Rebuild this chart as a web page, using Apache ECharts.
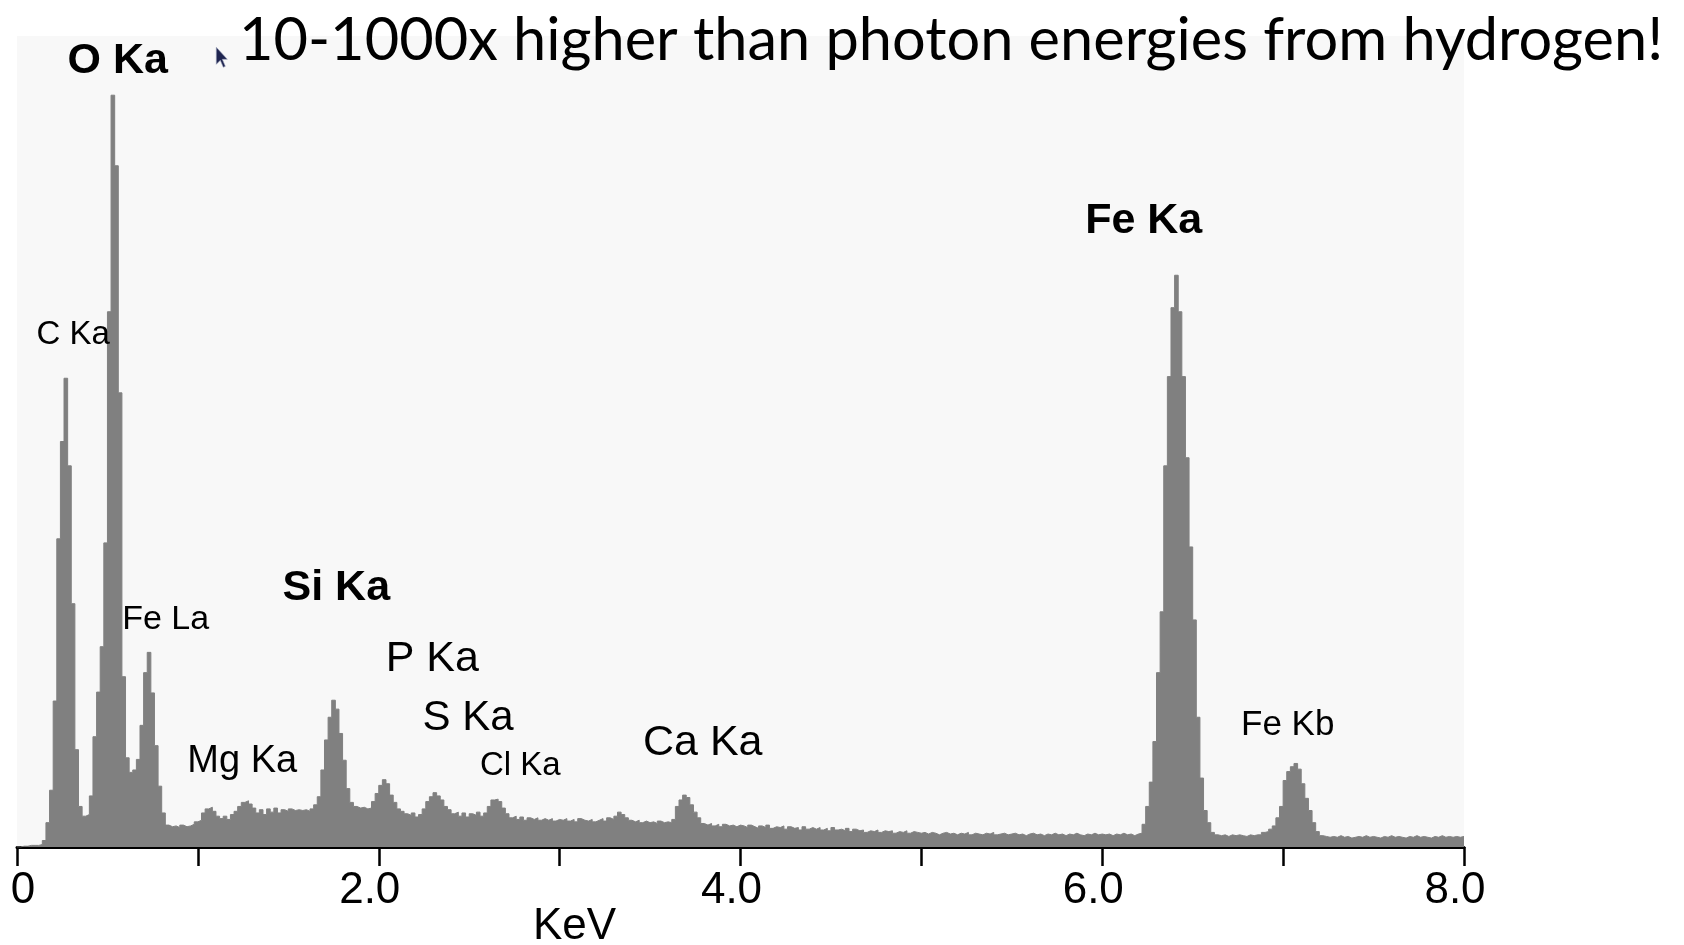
<!DOCTYPE html>
<html>
<head>
<meta charset="utf-8">
<title>EDS spectrum</title>
<script src="https://cdn.jsdelivr.net/npm/echarts@6/dist/echarts.min.js"></script>
<style>
  html, body { margin: 0; padding: 0; background: #ffffff; }
  #chart { width: 1684px; height: 945px; }
</style>
</head>
<body>
<div id="chart"></div>
<script>
// Energy-dispersive X-ray spectrum: counts per 0.02 keV channel, 0 - 8 keV.
const channelWidthKeV = 0.02;

const counts0to1 = [
  0, 1, 1, 2, 2, 2, 3, 8, 30, 70,
  180, 380, 500, 578, 470, 300, 120, 50, 38, 40,
  63, 136, 191, 247, 375, 660, 927, 840, 560, 210,
  110, 92, 95, 108, 150, 215, 240, 190, 125, 75,
  42, 27, 25, 26, 24, 27, 25, 26, 28, 31
];
const counts1to2 = [
  33, 42, 47, 49, 44, 38, 35, 38, 34, 40,
  44, 50, 55, 57, 53, 48, 42, 46, 40, 47,
  43, 48, 42, 46, 44, 47, 45, 46, 45, 46,
  44, 47, 52, 62, 95, 132, 160, 181, 170, 140,
  107, 72, 55, 50, 48, 49, 47, 48, 56, 66
];
const counts2to3 = [
  76, 83, 78, 64, 55, 47, 44, 41, 39, 42,
  37, 40, 47, 56, 62, 67, 63, 58, 50, 46,
  41, 43, 38, 42, 37, 41, 39, 43, 38, 42,
  50, 58, 59, 56, 48, 41, 36, 38, 34, 37,
  33, 36, 34, 36, 33, 35, 33, 35, 32, 34
];
const counts3to4 = [
  33, 35, 32, 34, 31, 35, 33, 32, 34, 31,
  33, 35, 32, 36, 34, 38, 43, 40, 36, 33,
  31, 33, 30, 32, 30, 31, 29, 32, 30, 31,
  30, 34, 50, 58, 64, 61, 52, 43, 36, 29,
  27, 29, 26, 28, 25, 28, 26, 27, 25, 27
];
const counts4to5 = [
  26, 24, 27, 25, 23, 26, 24, 27, 23, 25,
  24, 26, 22, 25, 23, 24, 21, 25, 22, 24,
  22, 24, 21, 23, 20, 24, 21, 22, 20, 23,
  19, 22, 20, 21, 18, 20, 19, 21, 18, 20,
  19, 20, 17, 19, 18, 20, 17, 19, 18, 17
];
const counts5to6 = [
  18, 16, 18, 17, 15, 17, 18, 16, 17, 15,
  17, 16, 18, 15, 17, 16, 15, 17, 16, 18,
  15, 16, 17, 15, 16, 17, 15, 16, 14, 16,
  17, 15, 16, 14, 16, 15, 17, 15, 16, 14,
  16, 15, 17, 15, 14, 16, 15, 17, 15, 16
];
const counts6to7 = [
  15, 16, 14, 16, 15, 17, 15, 16, 14, 16,
  17, 28, 50, 80, 130, 215, 290, 470, 580, 665,
  705, 660, 580, 480, 370, 280, 160, 85, 45, 30,
  18, 15, 14, 15, 13, 15, 14, 15, 14, 13,
  15, 14, 15, 15, 18, 19, 22, 26, 36, 50
];
const counts7to8 = [
  82, 93, 99, 103, 96, 78, 60, 45, 30, 19,
  14, 13, 12, 13, 12, 14, 12, 13, 11, 12,
  13, 12, 14, 12, 13, 12, 11, 13, 12, 14,
  12, 13, 12, 11, 13, 12, 14, 12, 13, 12,
  11, 13, 12, 14, 12, 13, 12, 13, 12, 13
];

// Emission lines named on the plot
const lineNames = ['C Ka', 'O Ka', 'Fe La', 'Mg Ka', 'Si Ka', 'P Ka', 'S Ka', 'Cl Ka', 'Ca Ka', 'Fe Ka', 'Fe Kb'];

// Axis text
const xTickLabels = ['0', '', '2.0', '', '4.0', '', '6.0', '', '8.0'];
const xAxisName = 'KeV';
const headline = '10-1000x higher than photon energies from hydrogen!';

// Where each line label sits (in keV / counts) and how it is set
const labelPlacement = {
  'C Ka':  { at: [0.314, 631], size: 33, bold: false },
  'O Ka':  { at: [0.560, 968], size: 43, bold: true },
  'Fe La': { at: [0.825, 280], size: 34, bold: false },
  'Mg Ka': { at: [1.248, 105], size: 38, bold: false },
  'Si Ka': { at: [1.768, 319], size: 43, bold: true },
  'P Ka':  { at: [2.299, 231], size: 43, bold: false },
  'S Ka':  { at: [2.497, 158], size: 42, bold: false },
  'Cl Ka': { at: [2.785, 99],  size: 33, bold: false },
  'Ca Ka': { at: [3.794, 128], size: 43, bold: false },
  'Fe Ka': { at: [6.232, 771], size: 43, bold: true },
  'Fe Kb': { at: [7.028, 150], size: 35, bold: false }
};

const allCounts = [].concat(counts0to1, counts1to2, counts2to3, counts3to4,
                            counts4to5, counts5to6, counts6to7, counts7to8);
const spectrum = allCounts.map((c, i) => [+(i * channelWidthKeV).toFixed(2), c]);
spectrum.push([8.0, allCounts[allCounts.length - 1]]);

const labelData = lineNames.map(name => {
  const p = labelPlacement[name];
  return {
    name: name,
    value: p.at,
    label: {
      color: '#000000',
      fontSize: p.size,
      fontWeight: p.bold ? 'bold' : 'normal'
    }
  };
});

const chart = echarts.init(document.getElementById('chart'), null, { renderer: 'canvas' });

chart.setOption({
  animation: false,
  backgroundColor: '#ffffff',
  title: {
    text: headline,
    left: 234,
    top: 6,
    textStyle: { fontFamily: 'Lato', fontSize: 59.5, fontWeight: 'normal', color: '#000000' }
  },
  grid: {
    left: 17, right: 220, top: 36, bottom: 98,
    outerBoundsMode: 'none',
    containLabel: false,
    show: true, backgroundColor: '#f8f8f8', borderWidth: 0
  },
  xAxis: {
    type: 'value',
    min: 0, max: 8, interval: 1,
    name: xAxisName,
    nameLocation: 'middle',
    nameGap: 58,
    nameMoveOverlap: false,
    nameTextStyle: {
      fontFamily: 'Liberation Sans', fontSize: 44, color: '#000000',
      padding: [0, 332, 0, 0]
    },
    axisLine: { show: true, onZero: false, lineStyle: { color: '#000000', width: 3 } },
    axisTick: { show: true, length: 19, lineStyle: { color: '#000000', width: 2.5 } },
    splitLine: { show: false },
    axisLabel: {
      margin: 22,
      fontFamily: 'Liberation Sans', fontSize: 44, color: '#000000',
      formatter: v => {
        const t = xTickLabels[Math.round(v)] || '';
        if (!t) return '';
        return v === 0 ? '{z|' + t + '}' : '{n|' + t + '}';
      },
      rich: {
        z: { fontFamily: 'Liberation Sans', fontSize: 44, color: '#000000', padding: [0, 0, 0, 12] },
        n: { fontFamily: 'Liberation Sans', fontSize: 44, color: '#000000', padding: [0, 18, 0, 0] }
      }
    }
  },
  yAxis: {
    type: 'value', min: 0, max: 1000, show: false,
    splitLine: { show: false }
  },
  series: [
    {
      name: 'counts',
      type: 'line',
      step: 'end',
      data: spectrum,
      symbol: 'none',
      lineStyle: { color: '#808080', width: 1 },
      areaStyle: { color: '#808080', opacity: 1 },
      z: 2
    },
    {
      name: 'lines',
      type: 'scatter',
      data: labelData,
      symbolSize: 1,
      itemStyle: { color: 'rgba(0,0,0,0)', opacity: 1 },
      label: {
        show: true,
        position: [0, 0],
        formatter: '{b}',
        fontFamily: 'Liberation Sans',
        color: '#000000',
        textBorderWidth: 0,
        align: 'center',
        verticalAlign: 'middle'
      },
      z: 5
    }
  ],
  graphic: [
    {
      // mouse pointer left on the slide
      type: 'polygon',
      left: 216, top: 47,
      shape: { points: [[0, 0], [0, 17], [4, 13], [7, 20], [9, 19], [6, 12], [11, 12]] },
      style: { fill: '#1f2550', stroke: '#9aa0b8', lineWidth: 0.6 },
      z: 10
    }
  ]
});
</script>
</body>
</html>
